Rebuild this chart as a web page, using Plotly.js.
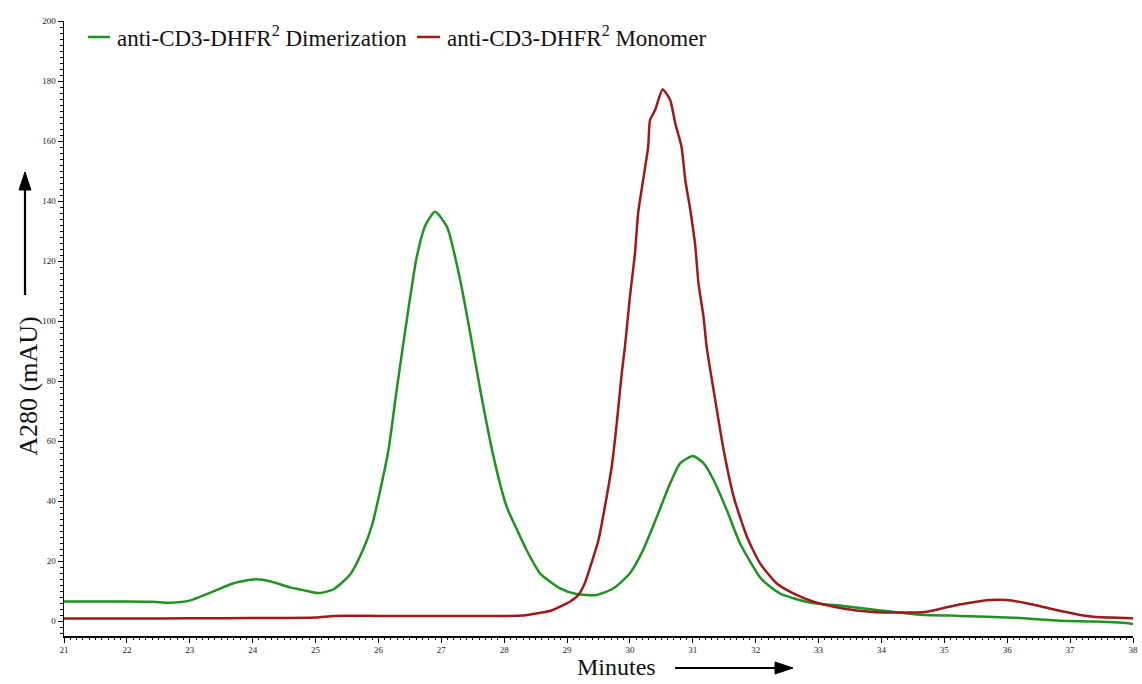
<!DOCTYPE html>
<html>
<head>
<meta charset="utf-8">
<script src="https://cdn.plot.ly/plotly-3.0.1.min.js"></script>
<style>html,body{margin:0;padding:0;background:#fff;}#chart{width:1142px;height:684px;}</style>
</head>
<body>
<div id="chart"></div>
<script>
// Dimerization trace (green)
const dimerMinutes = [21, 21.5, 22, 22.4, 22.7, 23.0, 23.3, 23.7, 24.05, 24.3, 24.6, 24.8, 25.04, 25.28, 25.55, 25.76, 25.9, 26.03, 26.16, 26.29, 26.42, 26.61, 26.75, 26.9, 27.09, 27.3, 27.46, 27.62, 27.83, 28.04, 28.2, 28.36, 28.57, 28.89, 29.15, 29.47, 29.74, 30.0, 30.21, 30.43, 30.64, 30.8, 31.0, 31.17, 31.33, 31.54, 31.75, 31.96, 32.07, 32.23, 32.4, 32.6, 32.86, 33.39, 33.92, 34.56, 35.25, 36.1, 36.84, 37.37, 37.95, 38];
const dimerA280 = [6.5, 6.5, 6.5, 6.4, 6.1, 6.8, 9.2, 12.6, 13.9, 13.1, 11.2, 10.3, 9.3, 10.5, 15.5, 24, 32, 43.7, 57, 77, 95.9, 121.4, 132, 136.4, 131.4, 113.7, 95.9, 77, 54.8, 38.1, 30.6, 23.5, 15.9, 10.9, 9, 8.7, 10.9, 15.9, 23.7, 34.8, 45.9, 52.6, 55, 52.6, 47, 37, 25.9, 18.1, 14.5, 11.4, 9.0, 7.6, 6.2, 5.0, 3.7, 2.2, 1.7, 1.1, 0.1, -0.2, -0.8, -1];

// Monomer trace (dark red)
const monoMinutes = [21, 22, 23, 24, 25, 25.3, 26, 27, 28, 28.3, 28.45, 28.6, 28.75, 28.89, 29.05, 29.18, 29.28, 29.37, 29.5, 29.63, 29.71, 29.79, 29.87, 29.92, 30.0, 30.08, 30.13, 30.21, 30.29, 30.32, 30.4, 30.52, 30.64, 30.72, 30.82, 30.88, 30.96, 31.04, 31.09, 31.17, 31.22, 31.33, 31.49, 31.65, 31.86, 32.07, 32.33, 32.6, 32.92, 33.39, 33.82, 34.3, 34.72, 35.04, 35.36, 35.73, 35.99, 36.31, 36.73, 37.16, 37.37, 38];
const monoA280 = [0.8, 0.8, 0.9, 1.0, 1.2, 1.7, 1.7, 1.7, 1.7, 1.8, 2.3, 2.8, 3.5, 4.8, 6.5, 8.7, 12.5, 18.1, 27, 41.4, 51.4, 65.9, 82.6, 91.4, 108.1, 122.6, 135.9, 147, 158.1, 167, 170.3, 177.2, 173.7, 165.9, 158.1, 147, 137, 124.8, 112.6, 101.4, 91.4, 77, 57, 41.4, 28.1, 19.2, 12.6, 9.2, 6.4, 4.2, 3.1, 2.8, 3.1, 4.6, 5.9, 7.0, 7.0, 5.9, 3.9, 2.0, 1.4, 0.9];

const seriesNames = ['anti-CD3-DHFR<sup>2</sup> Dimerization', 'anti-CD3-DHFR<sup>2</sup> Monomer'];
const seriesColors = ['#1f931f', '#9e1a1a'];
const xTickVals = [21,22,23,24,25,26,27,28,29,30,31,32,33,34,35,36,37,38];
const yTickVals = [0,20,40,60,80,100,120,140,160,180,200];

const serif = 'Liberation Serif';

const traces = [
  {x: dimerMinutes, y: dimerA280, name: seriesNames[0], type: 'scatter', mode: 'lines',
   line: {color: seriesColors[0], width: 2.5, shape: 'spline', smoothing: 0.6}},
  {x: monoMinutes, y: monoA280, name: seriesNames[1], type: 'scatter', mode: 'lines',
   line: {color: seriesColors[1], width: 2.5, shape: 'spline', smoothing: 0.6}}
];

// legend drawn manually (line + label per series)
const legY = 0.974;
const legLineX = [[0.0225, 0.0430], [0.3302, 0.3517]];
const legTextX = [0.0477, 0.3564];

const legendShapes = seriesColors.map((c, i) => ({
  type: 'line', xref: 'paper', yref: 'paper', x0: legLineX[i][0], x1: legLineX[i][1], y0: legY, y1: legY,
  line: {color: c, width: 2.5}
}));
const legendTexts = seriesNames.map((n, i) => ({
  text: n, xref: 'paper', yref: 'paper', x: legTextX[i], y: legY, xanchor: 'left', yanchor: 'middle',
  showarrow: false, font: {family: serif, size: 23, color: '#111'}
}));

const layout = {
  width: 1142, height: 684,
  margin: {l: 64, r: 9, t: 21, b: 48},
  paper_bgcolor: '#fff', plot_bgcolor: '#fff',
  font: {family: serif},
  showlegend: false,
  xaxis: {range: [21, 38], tickvals: xTickVals, ticks: 'outside', ticklen: 5, tickwidth: 1,
          tickcolor: '#000', showline: true, linecolor: '#000', linewidth: 1.5, showgrid: false,
          zeroline: false, tickfont: {family: serif, size: 9, color: '#222'},
          minor: {dtick: 0.1, ticks: 'outside', ticklen: 2.5, tickcolor: '#000', showgrid: false}},
  yaxis: {range: [-5, 200], tickvals: yTickVals, ticks: 'outside', ticklen: 5, tickwidth: 1,
          tickcolor: '#000', showline: true, linecolor: '#000', linewidth: 1.5, showgrid: false,
          zeroline: false, tickfont: {family: serif, size: 9, color: '#222'},
          minor: {dtick: 2, ticks: 'outside', ticklen: 2.5, tickcolor: '#000', showgrid: false}},
  annotations: [
    {text: 'A280 (mAU)', xref: 'paper', yref: 'paper', x: -0.034, y: 0.4065, textangle: -90,
     showarrow: false, xanchor: 'center', yanchor: 'middle', font: {family: serif, size: 26, color: '#111'}},
    {text: 'Minutes', xref: 'paper', yref: 'paper', x: 0.5164, y: -0.05, showarrow: false,
     xanchor: 'center', yanchor: 'middle', font: {family: serif, size: 24, color: '#111'}}
  ].concat(legendTexts),
  shapes: [
    {type: 'line', xref: 'paper', yref: 'paper', x0: -0.03648, x1: -0.03648, y0: 0.5545, y1: 0.7252,
     line: {color: '#000', width: 2.2}},
    {type: 'path', xref: 'paper', yref: 'paper', path: 'M -0.0421 0.7252 L -0.03087 0.7252 L -0.03648 0.7545 Z',
     fillcolor: '#000', line: {color: '#000', width: 1}},
    {type: 'line', xref: 'paper', yref: 'paper', x0: 0.5716, x1: 0.6651, y0: -0.052, y1: -0.052,
     line: {color: '#000', width: 2.2}},
    {type: 'path', xref: 'paper', yref: 'paper', path: 'M 0.6651 -0.0423 L 0.6651 -0.0618 L 0.6819 -0.052 Z',
     fillcolor: '#000', line: {color: '#000', width: 1}}
  ].concat(legendShapes)
};

Plotly.newPlot('chart', traces, layout, {displayModeBar: false, staticPlot: true});
</script>
</body>
</html>
